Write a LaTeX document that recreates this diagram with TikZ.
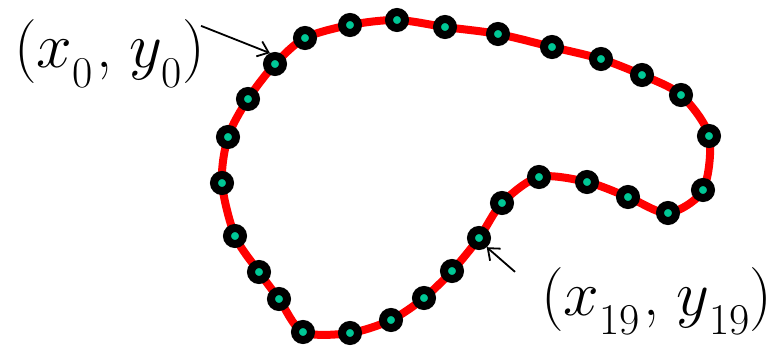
\RequirePackage{fix-cm}
\documentclass[tikz,border=0pt]{standalone}
\usepackage{tikz}
\usetikzlibrary{arrows.meta}
\definecolor{contour}{HTML}{FF0000}
\definecolor{seed}{HTML}{00C896}
\newcommand{\lowsub}[1]{\raisebox{-0.3em}{\fontsize{44}{46}\selectfont #1}}
\newcommand{\ptlabel}[1]{($x$\lowsub{#1}\hspace{0.06em},\hspace{0.26em}$y$\lowsub{#1})}

\begin{document}
\begin{tikzpicture}[x=1pt,y=-1pt,
  dot/.style={circle,draw=black,line width=8pt,fill=seed,minimum size=16pt,inner sep=0pt},
  lab/.style={font=\fontsize{64}{70}\selectfont,inner sep=0pt,anchor=base west},
  pointer/.style={-{Straight Barb[length=10pt,width=16pt]},line width=1.8pt}]
  \useasboundingbox (0,0) rectangle (773,347);
  % contour through the sample points
  \draw[contour,line width=8pt] plot[smooth cycle] coordinates {
    (275,64) (248,99) (228,137) (222,183) (235,236) (259,272) (279,299) (303,332)
    (350,333) (391,320) (424,298) (452,271) (479,238) (502,203) (539,177) (587,182)
    (628,197) (668,213) (703,190) (709,136) (681,95) (642,75) (601,59) (552,47)
    (498,34) (445,27) (397,20) (350,25) (305,38)};
  \foreach \x/\y [count=\i from 0] in {275/64,248/99,228/137,222/183,235/236,259/272,
      279/299,303/332,350/333,391/320,424/298,452/271,479/238,502/203,539/177,587/182,
      628/197,668/213,703/190,709/136,681/95,642/75,601/59,552/47,498/34,445/27,
      397/20,350/25,305/38}
    \node[dot] (p\i) at (\x,\y) {};
  \node[lab] (lab0) at (14,68) {\ptlabel{0}};
  \node[lab] (lab19) at (541,315) {\ptlabel{19}};
  \draw[pointer] ([shift={(-4,6)}]lab0.north east) -- (p0.115);
  \draw[pointer] ([shift={(-26,5)}]lab19.north west) -- (p12.-50);
\end{tikzpicture}
\end{document}
